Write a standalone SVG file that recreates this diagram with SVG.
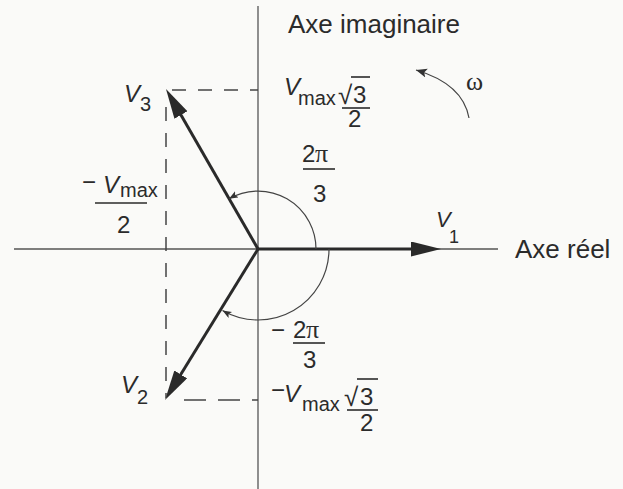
<svg xmlns="http://www.w3.org/2000/svg" width="623" height="489" viewBox="0 0 623 489">
<defs>
<style>
.axis{stroke:#555;stroke-width:1.3;fill:none}
.vec{stroke:#2a2a2a;stroke-width:3;fill:none}
.dash{stroke:#444;stroke-width:1.5;fill:none;stroke-dasharray:14 12}
.arc{stroke:#444;stroke-width:1.2;fill:none}
text{font-family:"Liberation Sans",Arial,sans-serif;fill:#2b2b2b}
.lbl{font-size:26px}
.v{font-size:24px;font-style:italic}
.sub{font-size:20px}
.num{font-size:24px}
.rad{font-size:26px}
.pi{font-family:"Liberation Serif","Times New Roman",serif;font-size:26px}
.bar{stroke:#2b2b2b;stroke-width:1.6}
</style>
<marker id="head" markerUnits="userSpaceOnUse" markerWidth="32" markerHeight="16" refX="10" refY="7.5" orient="auto">
<path d="M0,0 L30,7.5 L0,15 z" fill="#2a2a2a"/>
</marker>
<marker id="small" markerUnits="userSpaceOnUse" markerWidth="12" markerHeight="10" refX="9" refY="3.5" orient="auto">
<path d="M0,0 L9,3.5 L0,7 L2,3.5 z" fill="#333"/>
</marker>
<marker id="omega" markerUnits="userSpaceOnUse" markerWidth="14" markerHeight="12" refX="11" refY="4.5" orient="auto">
<path d="M0,0 L11,4.5 L0,9 L2.5,4.5 z" fill="#333"/>
</marker>
</defs>
<rect width="623" height="489" fill="#fafaf8"/>

<g id="axes">
<line class="axis" x1="258" y1="6" x2="258" y2="489"/>
<line class="axis" x1="14" y1="249" x2="498" y2="249"/>
<text class="lbl" x="288" y="33">Axe imaginaire</text>
<text class="lbl" x="515" y="258">Axe réel</text>
</g>

<g id="connectors">
<path class="vec" d="M258,249 L421,249" marker-end="url(#head)"/>
<path class="vec" d="M258,249 L175.96,106.34" marker-end="url(#head)"/>
<path class="vec" d="M258,249 L175.5,382.97" marker-end="url(#head)"/>
<path class="arc" d="M316,249 A58,58 0 0 0 229,198.8" marker-end="url(#small)"/>
<path class="arc" d="M329,249 A71,71 0 0 1 222.5,310.5" marker-end="url(#small)"/>
<path class="arc" d="M469,118 Q463,84 416,70" marker-end="url(#omega)"/>
<path class="dash" d="M166,107 L166,398"/>
<path class="dash" d="M172,90 L258,90"/>
<path class="dash" d="M184,400 L258,400" style="stroke-dasharray:22 12"/>
</g>

<g id="V1">
<text class="v" x="436" y="227" style="font-size:22px">V</text>
<text class="sub" x="449" y="243" style="font-size:18px">1</text>
</g>
<g id="V3">
<text class="v" x="124" y="102">V</text>
<text class="sub" x="140" y="111">3</text>
</g>
<g id="V2">
<text class="v" x="121" y="393">V</text>
<text class="sub" x="137" y="404">2</text>
</g>

<g id="omega-label">
<text x="466" y="90" style="font-family:'Liberation Serif','Times New Roman',serif;font-size:26px">ω</text>
</g>

<g id="vmax-top">
<text class="v" x="284" y="95">V</text>
<text class="sub" x="298" y="105">max</text>
<text class="rad" x="338" y="104">√</text>
<text class="num" x="353" y="103">3</text>
<line class="bar" x1="351" y1="77" x2="370" y2="77"/>
<line class="bar" x1="342" y1="108" x2="370" y2="108"/>
<text class="num" x="348" y="127">2</text>
</g>

<g id="vmax-left">
<text class="num" x="82" y="190">−</text>
<text class="v" x="103" y="193">V</text>
<text class="sub" x="120" y="197">max</text>
<line class="bar" x1="95" y1="203" x2="147" y2="203"/>
<text class="num" x="117" y="233">2</text>
</g>

<g id="angle-top">
<text class="num" x="302" y="162">2</text>
<text class="pi" x="315" y="162">π</text>
<line class="bar" x1="303" y1="169" x2="335" y2="169"/>
<text class="num" x="313" y="202">3</text>
</g>

<g id="angle-bottom">
<text class="num" x="271" y="338">−</text>
<text class="num" x="293" y="338">2</text>
<text class="pi" x="306" y="338">π</text>
<line class="bar" x1="293" y1="343" x2="325" y2="343"/>
<text class="num" x="303" y="368">3</text>
</g>

<g id="vmax-bottom">
<text class="num" x="271" y="398">−</text>
<text class="v" x="284" y="402">V</text>
<text class="sub" x="302" y="411">max</text>
<text class="rad" x="344" y="406">√</text>
<text class="num" x="360" y="405">3</text>
<line class="bar" x1="357" y1="379" x2="378" y2="379"/>
<line class="bar" x1="347" y1="410" x2="378" y2="410"/>
<text class="num" x="360" y="431">2</text>
</g>
</svg>
